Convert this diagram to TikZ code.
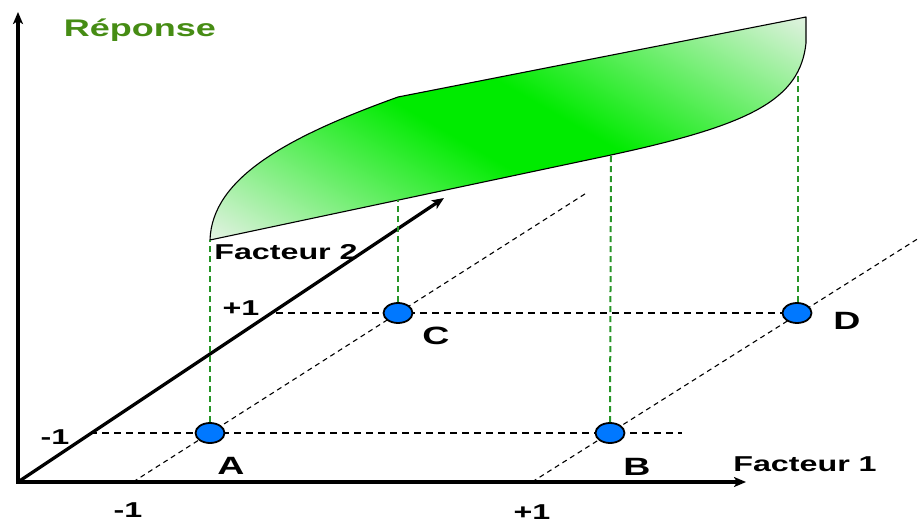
\documentclass[tikz,border=0pt]{standalone}
\usepackage{fontspec}
\setmainfont{Liberation Sans}[FakeStretch=1.5]
\usetikzlibrary{arrows.meta,shapes.geometric}
\definecolor{rep}{RGB}{70,140,20}
\definecolor{ptblue}{RGB}{0,120,255}
\definecolor{gdash}{RGB}{40,150,40}
\definecolor{surfl}{RGB}{228,242,228}
\definecolor{surfg}{RGB}{0,235,0}
\pgfdeclareverticalshading{surfshade}{100bp}{color(0bp)=(surfl); color(34.5bp)=(surfl); color(47.8bp)=(surfg); color(52.2bp)=(surfg); color(65.5bp)=(surfl); color(100bp)=(surfl)}
\begin{document}
\begin{tikzpicture}[x=1pt,y=-1pt,
  axis/.style={line width=3.3pt,-{Stealth[length=12pt,width=10pt,inset=3pt]}},
  gridline/.style={line width=1.1pt,dash pattern=on 7pt off 5pt},
  diagline/.style={line width=1.1pt,dash pattern=on 5pt off 4pt},
  vdash/.style={gdash,line width=2pt,dash pattern=on 6pt off 4pt},
  pt/.style={ellipse,minimum width=29pt,minimum height=20pt,inner sep=0pt,fill=ptblue,draw=black,line width=1.8pt},
  lab/.style={inner sep=0pt,font=\bfseries\fontsize{21.5}{21.5}\selectfont},
  letter/.style={inner sep=0pt,font=\bfseries\fontsize{25}{25}\selectfont}
]
\useasboundingbox (0,0) rectangle (923,524);

% key coordinates
\coordinate (O) at (18,482);
\coordinate (Ytop) at (18,12);
\coordinate (Xend) at (746,482);
\coordinate (F2) at (444,198);
\coordinate (pA) at (210,433);
\coordinate (pB) at (610,433);
\coordinate (pC) at (398,313);
\coordinate (pD) at (797,313);
\coordinate (g1l) at (90,433);
\coordinate (g1r) at (682,433);
\coordinate (g2l) at (276,313);
\coordinate (d1s) at (133,482);
\coordinate (d1e) at (588,192);
\coordinate (d2s) at (532,482);
\coordinate (d2e) at (919,238);
\coordinate (sA) at (210,240);
\coordinate (sB) at (611,155);
\coordinate (sC) at (398,200);
\coordinate (sD) at (798,76);

% response surface
\begin{scope}
  \clip (sA) .. controls (212,178) and (287,137) .. (398,97) -- (806,17)
    -- (806,43) .. controls (800,100) and (750,125) .. (sB) -- cycle;
  \shade[shading=surfshade,shading angle=-30] (110,-272) rectangle (910,528);
\end{scope}
\draw[line width=1.1pt,line join=round] (sA) .. controls (212,178) and (287,137) .. (398,97) -- (806,17)
    -- (806,43) .. controls (800,100) and (750,125) .. (sB) -- cycle;

% dashed grid
\draw[gridline] (g1l) -- (g1r);
\draw[gridline] (g2l) -- (pD);
\draw[diagline] (d1s) -- (d1e);
\draw[diagline] (d2s) -- (d2e);

% axes
\draw[axis] (O) -- (Ytop);
\draw[axis] ([xshift=-2pt]O) -- (Xend);
\draw[axis] (O) -- (F2);

% points
\node[pt] (A) at (pA) {};
\node[pt] (B) at (pB) {};
\node[pt] (C) at (pC) {};
\node[pt] (D) at (pD) {};

% projections to the surface
\draw[vdash] (A.north) -- (sA);
\draw[vdash] (B.north) -- (sB);
\draw[vdash] (C.north) -- (sC);
\draw[vdash] ([xshift=1pt]D.north) -- (sD);

% labels
\node[anchor=base,inner sep=0pt,text=rep,font=\bfseries\fontsize{24}{24}\selectfont] (rep) at (140,37) {Réponse};
\node[lab] (f1) at (805,464) {Facteur 1};
\node[lab] (f2) at (286,252) {Facteur 2};
\node[lab] (m1l) at (55,437) {-1};
\node[lab] (p1l) at (241,308) {+1};
\node[lab] (m1b) at (128,510) {-1};
\node[lab] (p1b) at (532,512) {+1};
\node[letter] (lA) at (231,466) {A};
\node[letter] (lB) at (637,467) {B};
\node[letter] (lC) at (436,336) {C};
\node[letter] (lD) at (847,321) {D};
\end{tikzpicture}
\end{document}
